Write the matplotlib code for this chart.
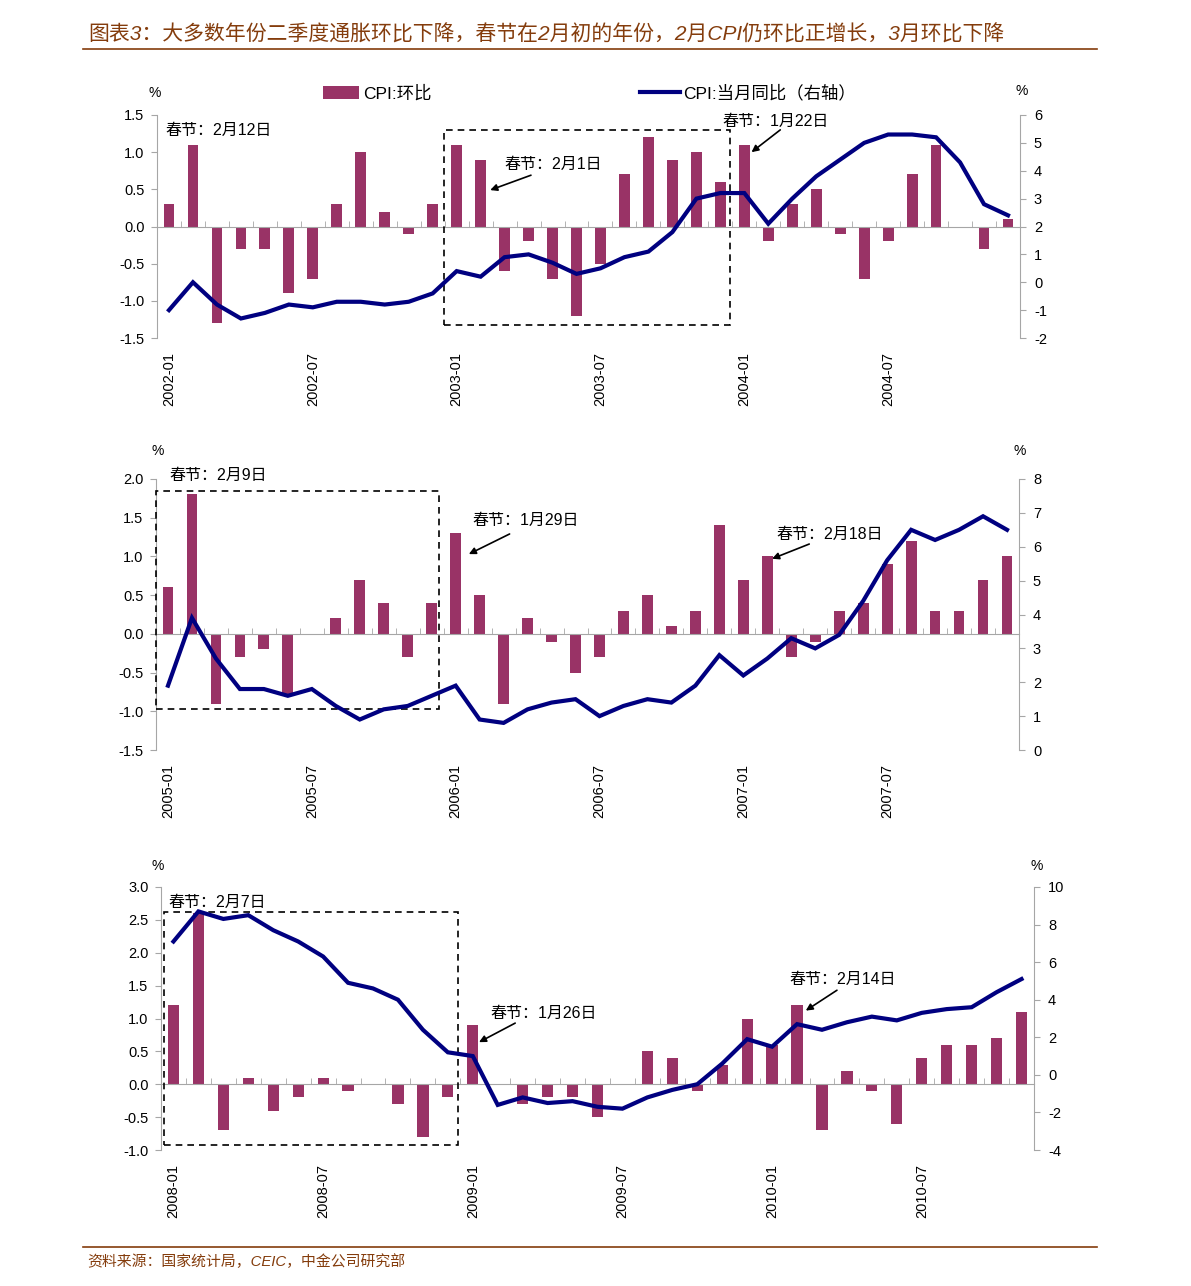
import numpy as np
import matplotlib
matplotlib.use('Agg')
import matplotlib.pyplot as plt
from matplotlib.patches import Rectangle, Patch
from matplotlib.lines import Line2D

plt.rcParams['font.family'] = ['Liberation Sans', 'Noto Sans CJK SC']
plt.rcParams['axes.unicode_minus'] = False

# CPI 环比 (left axis) and 当月同比 (right axis), monthly
mom_1 = [0.3, 1.1, -1.3, -0.3, -0.3, -0.9, -0.7, 0.3, 1.0, 0.2, -0.1, 0.3,
         1.1, 0.9, -0.6, -0.2, -0.7, -1.2, -0.5, 0.7, 1.2, 0.9, 1.0, 0.6,
         1.1, -0.2, 0.3, 0.5, -0.1, -0.7, -0.2, 0.7, 1.1, 0.0, -0.3, 0.1]
yoy_1 = [-1.0, 0.0, -0.8, -1.3, -1.1, -0.8, -0.9, -0.7, -0.7, -0.8, -0.7, -0.4,
         0.4, 0.2, 0.9, 1.0, 0.7, 0.3, 0.5, 0.9, 1.1, 1.8, 3.0, 3.2,
         3.2, 2.1, 3.0, 3.8, 4.4, 5.0, 5.3, 5.3, 5.2, 4.3, 2.8, 2.4]
dates_1 = ['2002-01', '2002-07', '2003-01', '2003-07', '2004-01', '2004-07']

mom_2 = [0.6, 1.8, -0.9, -0.3, -0.2, -0.8, 0.0, 0.2, 0.7, 0.4, -0.3, 0.4,
         1.3, 0.5, -0.9, 0.2, -0.1, -0.5, -0.3, 0.3, 0.5, 0.1, 0.3, 1.4,
         0.7, 1.0, -0.3, -0.1, 0.3, 0.4, 0.9, 1.2, 0.3, 0.3, 0.7, 1.0]
yoy_2 = [1.9, 3.9, 2.7, 1.8, 1.8, 1.6, 1.8, 1.3, 0.9, 1.2, 1.3, 1.6,
         1.9, 0.9, 0.8, 1.2, 1.4, 1.5, 1.0, 1.3, 1.5, 1.4, 1.9, 2.8,
         2.2, 2.7, 3.3, 3.0, 3.4, 4.4, 5.6, 6.5, 6.2, 6.5, 6.9, 6.5]
dates_2 = ['2005-01', '2005-07', '2006-01', '2006-07', '2007-01', '2007-07']

mom_3 = [1.2, 2.6, -0.7, 0.1, -0.4, -0.2, 0.1, -0.1, 0.0, -0.3, -0.8, -0.2,
         0.9, 0.0, -0.3, -0.2, -0.2, -0.5, 0.0, 0.5, 0.4, -0.1, 0.3, 1.0,
         0.6, 1.2, -0.7, 0.2, -0.1, -0.6, 0.4, 0.6, 0.6, 0.7, 1.1]
yoy_3 = [7.1, 8.7, 8.3, 8.5, 7.7, 7.1, 6.3, 4.9, 4.6, 4.0, 2.4, 1.2,
         1.0, -1.6, -1.2, -1.5, -1.4, -1.7, -1.8, -1.2, -0.8, -0.5, 0.6, 1.9,
         1.5, 2.7, 2.4, 2.8, 3.1, 2.9, 3.3, 3.5, 3.6, 4.4, 5.1]
dates_3 = ['2008-01', '2008-07', '2009-01', '2009-07', '2010-01', '2010-07']

BAR = '#993366'
LINE = '#000080'
GRAY = '#A6A6A6'
BROWN = '#843C0C'

W, H = 1191, 1286
fig = plt.figure(figsize=(W / 100, H / 100), dpi=100)


def px_rect(l, t, r, b):
    return [l / W, 1 - b / H, (r - l) / W, (b - t) / H]


panels = [
    dict(rect=px_rect(157, 115, 1020, 338), mom=mom_1, yoy=yoy_1, dates=dates_1,
         ylim=(-1.5, 1.5), yticks=np.arange(-1.5, 1.51, 0.5),
         y2lim=(-2, 6), y2ticks=np.arange(-2, 7, 1),
         frame=(11.46, -1.33, 23.42, 1.30),
         notes=[('春节：2月12日', (-0.13, 1.29), None, None),
                ('春节：2月1日', (14.0, 0.83), (15.1, 0.69), (13.4, 0.49)),
                ('春节：1月22日', (23.1, 1.42), (25.5, 1.30), (24.3, 1.0))]),
    dict(rect=px_rect(156, 479, 1019, 750), mom=mom_2, yoy=yoy_2, dates=dates_2,
         ylim=(-1.5, 2.0), yticks=np.arange(-1.5, 2.01, 0.5),
         y2lim=(0, 8), y2ticks=np.arange(0, 9, 1),
         frame=(-0.51, -0.97, 11.29, 1.85),
         notes=[('春节：2月9日', (0.08, 2.05), None, None),
                ('春节：1月29日', (12.7, 1.47), (14.25, 1.29), (12.55, 1.03)),
                ('春节：2月18日', (25.4, 1.29), (26.75, 1.16), (25.2, 0.97))]),
    dict(rect=px_rect(161, 887, 1034, 1150), mom=mom_3, yoy=yoy_3, dates=dates_3,
         ylim=(-1.0, 3.0), yticks=np.arange(-1.0, 3.01, 0.5),
         y2lim=(-4, 10), y2ticks=np.arange(-4, 11, 2),
         frame=(-0.39, -0.93, 11.41, 2.62),
         notes=[('春节：2月7日', (-0.2, 2.77), None, None),
                ('春节：1月26日', (12.7, 1.07), (13.7, 0.93), (12.25, 0.64)),
                ('春节：2月14日', (24.7, 1.60), (26.6, 1.43), (25.35, 1.12))]),
]

for p in panels:
    n = len(p['mom'])
    x = np.arange(n)
    ax = fig.add_axes(p['rect'])
    ax.bar(x, p['mom'], width=0.45, color=BAR, zorder=2)
    ax.set_xlim(-0.5, n - 0.5)
    ax.set_ylim(*p['ylim'])
    ax.set_yticks(p['yticks'])
    ax.set_yticklabels([f'{v:.1f}' for v in p['yticks']], fontsize=10.5)
    ax.tick_params(axis='y', direction='out', length=4, color=GRAY, pad=5)

    # zero line with category ticks
    ax.spines['bottom'].set_position(('data', 0))
    ax.spines['bottom'].set_color(GRAY)
    ax.spines['left'].set_color(GRAY)
    ax.spines['top'].set_visible(False)
    ax.spines['right'].set_visible(False)
    ax.set_xticks([])
    ax.set_xticks(np.arange(0.5, n - 1, 1), minor=True)
    ax.tick_params(axis='x', which='minor', direction='in', length=4, color=GRAY)

    sec = ax.secondary_xaxis(0)
    sec.set_xticks(np.arange(0, n, 6), p['dates'], rotation=90, fontsize=10.5)
    sec.tick_params(length=0, pad=10)
    sec.spines['bottom'].set_visible(False)

    ax2 = ax.twinx()
    ax2.plot(x, p['yoy'], color=LINE, lw=3, solid_joinstyle='miter')
    ax2.set_ylim(*p['y2lim'])
    ax2.set_yticks(p['y2ticks'])
    ax2.set_yticklabels([f'{v:d}' for v in p['y2ticks']], fontsize=10.5)
    ax2.tick_params(axis='y', direction='out', length=4, color=GRAY, pad=6)
    for s in ['top', 'left', 'bottom']:
        ax2.spines[s].set_visible(False)
    ax2.spines['right'].set_color(GRAY)

    x0, y0, x1, y1 = p['frame']
    ax2.add_patch(Rectangle((x0, y0), x1 - x0, y1 - y0, fill=False,
                            ls=(0, (4, 3)), lw=1.2, ec='black',
                            transform=ax.transData, clip_on=False))

    for txt, pos, tail, head in p['notes']:
        ax2.text(pos[0], pos[1], txt, fontsize=11.5, ha='left', va='center',
                 transform=ax.transData)
        if tail is not None:
            ax2.annotate('', xy=head, xytext=tail, xycoords=ax.transData,
                         textcoords=ax.transData,
                         arrowprops=dict(arrowstyle='-|>', color='black', lw=1.2,
                                         mutation_scale=10, shrinkA=0, shrinkB=0))

# percent labels
for xp, yp in [(155, 93), (1022, 91), (158, 451), (1020, 451), (158, 866), (1037, 866)]:
    fig.text(xp / W, 1 - yp / H, '%', fontsize=10, ha='center', va='center')

# legend
fig.legend(handles=[Patch(facecolor=BAR)], labels=['CPI:环比'], loc='center left',
           bbox_to_anchor=(323 / W, 1 - 93 / H), frameon=False, fontsize=12.5,
           handlelength=2.1, handleheight=0.8, handletextpad=0.2,
           borderpad=0, borderaxespad=0)
fig.legend(handles=[Line2D([], [], color=LINE, lw=3)], labels=['CPI:当月同比（右轴）'],
           loc='center left', bbox_to_anchor=(640 / W, 1 - 93 / H), frameon=False,
           fontsize=12.5, handlelength=2.3, handletextpad=0.2,
           borderpad=0, borderaxespad=0)

# title and source
fig.text(88 / W, 1 - 35 / H,
         '图表3：大多数年份二季度通胀环比下降，春节在2月初的年份，2月CPI仍环比正增长，3月环比下降',
         fontsize=15, style='italic', color=BROWN, ha='left', va='center')
fig.add_artist(Line2D([83 / W, 1097 / W], [1 - 49 / H, 1 - 49 / H], color=BROWN, lw=1.2))
fig.add_artist(Line2D([83 / W, 1097 / W], [1 - 1247 / H, 1 - 1247 / H], color=BROWN, lw=1.2))
fig.text(87 / W, 1 - 1262 / H, '资料来源：国家统计局，CEIC，中金公司研究部',
         fontsize=10.7, style='italic', color=BROWN, ha='left', va='center')

fig.savefig('out.png', dpi=100)
